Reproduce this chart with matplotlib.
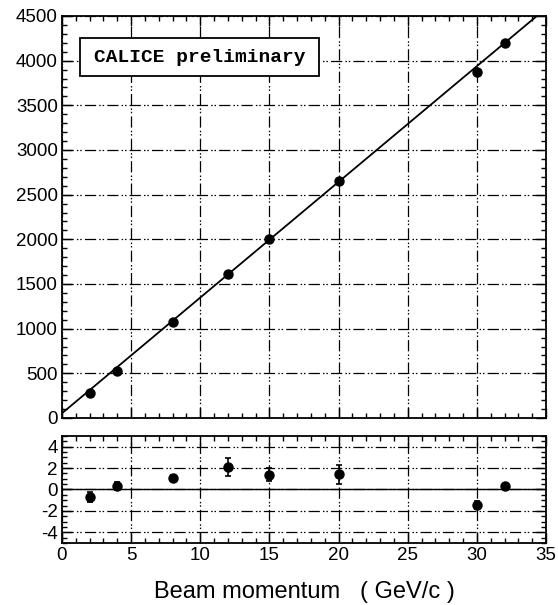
import matplotlib
matplotlib.use("Agg")
import matplotlib.pyplot as plt
from matplotlib.ticker import MultipleLocator
from matplotlib.patches import Rectangle

# ---- data ----
momentum = [2, 4, 8, 12, 15, 20, 30, 32]
response = [276, 530, 1071, 1612, 2001, 2657, 3878, 4203]
residual = [-0.73, 0.33, 1.05, 2.07, 1.36, 1.42, -1.45, 0.33]
residual_err = [0.45, 0.35, 0.3, 0.85, 0.6, 0.9, 0.4, 0.15]
fit_intercept = 53.0
fit_slope = 129.5
fit_range = [0, 35]
x_ticklabels = ["0", "5", "10", "15", "20", "25", "30", "35"]
top_yticks = [0, 500, 1000, 1500, 2000, 2500, 3000, 3500, 4000, 4500]
bot_yticks = [-4, -2, 0, 2, 4]

plt.rcParams['font.family'] = ['Liberation Sans', 'DejaVu Sans']
plt.rcParams['axes.unicode_minus'] = False

fig = plt.figure(figsize=(5.58, 6.05), dpi=100)
ax1 = fig.add_axes([0.1111, 0.3091, 0.8674, 0.6645])
ax2 = fig.add_axes([0.1111, 0.1025, 0.8674, 0.1769])

grid_dash = (0, (9, 2.5, 1.2, 1.5, 1.2, 2.5))

def style(ax):
    for s in ax.spines.values():
        s.set_linewidth(1.3)
    ax.tick_params(which='both', direction='in', top=True, right=True,
                   labelsize=13.5, width=1.0, colors='black', pad=3)
    ax.tick_params(which='major', length=7)
    ax.tick_params(which='minor', length=3.5)
    ax.grid(True, which='major', color='black', linewidth=0.9, linestyle=grid_dash)
    ax.set_axisbelow(True)

# top panel
style(ax1)
ax1.set_xlim(0, 35)
ax1.set_ylim(0, 4500)
ax1.set_yticks(top_yticks)
ax1.yaxis.set_minor_locator(MultipleLocator(100))
ax1.set_xticks(range(0, 36, 5))
ax1.xaxis.set_minor_locator(MultipleLocator(1))
ax1.set_xticklabels([])
fx = fit_range
fy = [fit_intercept + fit_slope * v for v in fx]
ax1.plot(fx, fy, color='black', linewidth=1.3, zorder=3)
ax1.plot(momentum, response, 'o', color='black', markersize=6.5, zorder=4)
ax1.add_patch(Rectangle((0.0372, 0.851), 0.4938, 0.094, transform=ax1.transAxes,
                        facecolor='white', edgecolor='black', linewidth=1.3, zorder=5))
ax1.text(0.284, 0.897, "CALICE preliminary", transform=ax1.transAxes,
         family=['Liberation Mono', 'DejaVu Sans Mono'], fontweight='bold', fontsize=14,
         va='center', ha='center', zorder=6)

# bottom panel
style(ax2)
ax2.set_xlim(0, 35)
ax2.set_ylim(-5, 5)
ax2.set_yticks(bot_yticks)
ax2.yaxis.set_minor_locator(MultipleLocator(0.5))
ax2.set_xticks(range(0, 36, 5))
ax2.set_xticklabels(x_ticklabels)
ax2.xaxis.set_minor_locator(MultipleLocator(1))
ax2.axhline(0, color='black', linewidth=1.0, zorder=2)
ax2.errorbar(momentum, residual, yerr=residual_err, fmt='o', color='black',
             markersize=6.5, elinewidth=1.2, capsize=2.5, capthick=1.2, zorder=4)
ax2.set_xlabel("Beam momentum   ( GeV/c )", fontsize=17, labelpad=12)

fig.savefig("out.png", dpi=100)
